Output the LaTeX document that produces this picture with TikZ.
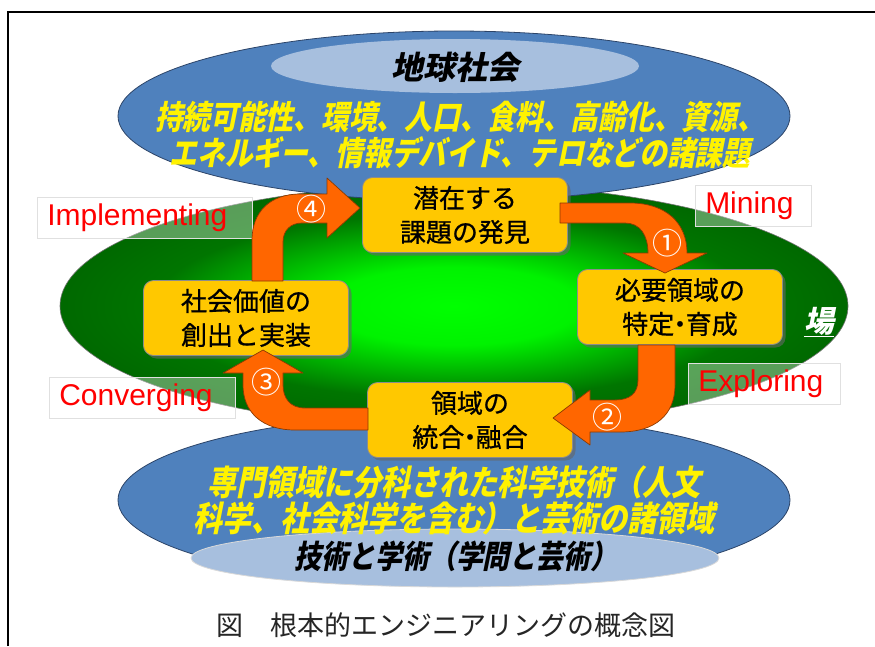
\documentclass[tikz,border=0pt]{standalone}
\usepackage{fontspec}
\setmainfont{Liberation Sans}
\newfontfamily\jp{Noto Sans CJK JP}
\newfontfamily\jpm[FakeBold=0.8]{Noto Sans CJK JP}
\newfontfamily\jpsl[FakeSlant=0.2]{Noto Sans CJK JP}
\newfontfamily\jpslc[FakeSlant=0.2,FakeStretch=0.84]{Noto Sans CJK JP}
\usetikzlibrary{shadows}
\definecolor{oblue}{HTML}{4F81BD}
\definecolor{oedge}{HTML}{2C4468}
\definecolor{lblue}{HTML}{A7BFDE}
\definecolor{byel}{HTML}{FFC800}
\definecolor{aorange}{HTML}{FF6600}
\definecolor{aedge}{HTML}{8B3A00}
\pgfdeclareradialshading{greenglow}{\pgfpoint{0bp}{0bp}}{rgb(0bp)=(0,1,0); rgb(8bp)=(0,0.95,0); rgb(19bp)=(0,0.46,0); rgb(25bp)=(0,0.41,0); rgb(50bp)=(0,0.41,0)}
\newcommand{\ndot}{\hspace{-0.28em}・\hspace{-0.28em}}
\tikzset{
  box/.style={rounded corners=10pt, fill=byel, draw=black!45, line width=0.8pt,
    minimum width=205pt, minimum height=75pt, align=center,
    font=\jpm\fontsize{26}{34}\selectfont,
    drop shadow={shadow xshift=3pt, shadow yshift=-3pt, fill=black!60, opacity=0.6}},
  lab/.style={rectangle, draw=black!12, line width=0.5pt, fill=white, fill opacity=0.35,
    text opacity=1, text=red, font=\fontsize{30}{30}\selectfont,
    inner xsep=10pt, inner ysep=0pt, minimum height=41pt, align=left, anchor=north west},
  arr/.style={fill=aorange, draw=aedge, line width=0.7pt, line join=round},
  num/.style={text=white, font=\jp\fontsize{30}{30}\selectfont, inner sep=0pt},
  yel/.style={text=yellow, align=center, inner sep=0pt},
  bigell/.style={fill=oblue, draw=oedge, line width=0.8pt}
}
\begin{document}
\begin{tikzpicture}[x=1pt,y=-1pt]
\useasboundingbox (0,0) rectangle (875,646);
% frame
\draw[line width=1.6pt] (8,646) -- (8,12) -- (875,12);
% green field
\shade[shading=greenglow] (454,306) ellipse [x radius=394pt, y radius=122pt];
\draw[black!55, line width=0.6pt] (454,306) ellipse [x radius=394pt, y radius=122pt];
% top ellipse
\draw[bigell] (454,116) ellipse [x radius=336pt, y radius=85pt];
\fill[lblue] (455,66) ellipse [x radius=184pt, y radius=27pt];
\node[inner sep=0pt, font=\jpsl\bfseries\fontsize{32}{32}\selectfont] (earth) at (455,67) {地球社会};
\node[yel, font=\jpslc\bfseries\fontsize{33}{36}\selectfont] (issues) at (460,135)
  {持続可能性、環境、人口、食料、高齢化、資源、\\エネルギー、情報デバイド、テロなどの諸課題};
% bottom ellipse
\draw[bigell] (454,500) ellipse [x radius=336pt, y radius=86pt];
\draw[fill=lblue, draw=black!15, line width=0.8pt] (455,558) ellipse [x radius=264pt, y radius=29pt];
\node[yel, font=\jpslc\bfseries\fontsize{34.5}{36}\selectfont] (fields) at (454,500)
  {専門領域に分科された科学技術（人文\\科学、社会科学を含む）と芸術の諸領域};
\node[inner sep=0pt, font=\jpslc\bfseries\fontsize{32}{32}\selectfont] (arts) at (456,556) {技術と学術（学問と芸術）};
% labels
\node[lab, text width=195pt] (impl) at (37,197) {Implementing};
\node[lab, text width=96pt] (mine) at (695,185) {Mining};
\node[lab, text width=132pt] (expl) at (688,363) {Exploring};
\node[lab, text width=166pt] (conv) at (49,377) {Converging};
% boxes
\node[box] (A) at (465,215) {潜在する\\課題の発見};
\node[box] (B) at (680,307) {必要領域の\\特定\ndot 育成};
\node[box] (C) at (470,420) {領域の\\統合\ndot 融合};
\node[box] (D) at (246,318) {社会価値の\\創出と実装};
% arrows
% 1: A -> B
\draw[arr] (560,203) -- (630,203) .. controls (665,203) and (687,222) .. (687,253)
  -- (707,253) -- (665,273) -- (623,253) -- (648,253)
  .. controls (648,235) and (640,223) .. (625,223) -- (560,223) -- cycle;
% 2: B -> C
\draw[arr] (638,345) -- (675,345) -- (675,385) .. controls (675,415) and (655,432) .. (620,432)
  -- (590,432) -- (590,445) -- (553,418) -- (590,390) -- (590,400) -- (615,400)
  .. controls (630,400) and (638,393) .. (638,380) -- cycle;
% 3: C -> D
\draw[arr] (368,408) -- (305,408) .. controls (290,408) and (283,398) .. (283,385)
  -- (283,373) -- (303,373) -- (263,350) -- (223,373) -- (243,373) -- (243,385)
  .. controls (243,412) and (262,430) .. (295,430) -- (368,430) -- cycle;
% 4: D -> A
\draw[arr] (252,281) -- (252,240) .. controls (252,212) and (270,194) .. (300,194)
  -- (327,194) -- (327,178) -- (360,208) -- (327,238) -- (327,223) -- (302,223)
  .. controls (291,223) and (283,230) .. (283,242) -- (283,281) -- cycle;
% numbers
\node[num] (n1) at (667,243) {①};
\node[num] (n2) at (607,417) {②};
\node[num] (n3) at (266,382) {③};
\node[num] (n4) at (311,209) {④};
% field label
\node[text=white, inner sep=0pt, font=\jpsl\bfseries\fontsize{30}{30}\selectfont] (ba) at (819,322) {\underline{場}};
% caption
\node[inner sep=0pt, text=black!85, font=\jp\fontsize{27}{27}\selectfont] (cap) at (446,625) {図　根本的エンジニアリングの概念図};
\end{tikzpicture}
\end{document}
